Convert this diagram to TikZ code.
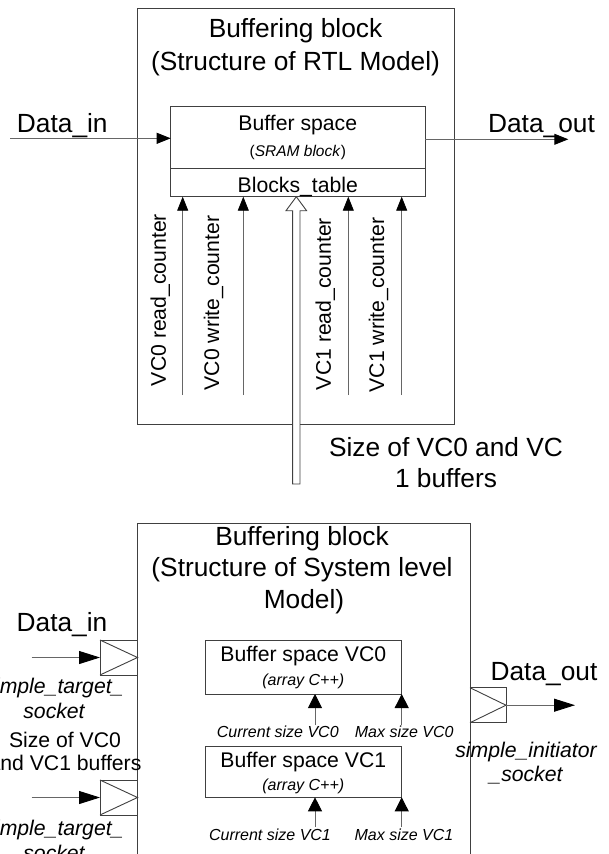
\documentclass[tikz,border=0pt]{standalone}
\usepackage{fontspec}
\setmainfont{Liberation Sans}
\usetikzlibrary{arrows.meta,calc}

\begin{document}
\begin{tikzpicture}[x=1pt,y=-1pt,
  boxline/.style={draw=black!75, line width=0.9pt},
  wire/.style={draw=black!60, line width=0.9pt},
  rectbox/.style={boxline, rectangle, inner sep=0pt, outer sep=0pt},
  tipS/.style={-{Triangle[length=14pt,width=11pt,color=black]}},
  tipM/.style={-{Triangle[length=14pt,width=14pt,color=black]}},
  tipL/.style={-{Triangle[length=21pt,width=13pt,color=black]}},
  lbl/.style={inner sep=0pt, anchor=base},
  fbig/.style={font=\fontsize{26.3}{30}\selectfont},
  fmid/.style={font=\fontsize{21.2}{25}\selectfont},
  fsmall/.style={font=\fontsize{16}{19}\selectfont},
  fsmallit/.style={font=\fontsize{16}{19}\selectfont\itshape},
  fmidit/.style={font=\fontsize{21.2}{25}\selectfont\itshape}]
\useasboundingbox (0,0) rectangle (608,854);
\clip (0,0) rectangle (608,854);

% ---------------- RTL model ----------------
\node[rectbox, minimum width=316.8pt, minimum height=416pt] (rtl) at (295.9,216.3) {};
\node[lbl,fbig] (rtlA) at (295.5,37.5) {Buffering block};
\node[lbl,fbig] (rtlB) at (295.5,70.9) {(Structure of RTL Model)};

\node[rectbox, minimum width=254.3pt, minimum height=62pt] (bufspace) at (297.85,137) {};
\node[rectbox, minimum width=254.3pt, minimum height=28.7pt] (tbl) at (297.85,182.35) {};
\node[lbl,fmid] (bsA) at (297.8,130.7) {Buffer space};
\node[lbl,font=\fontsize{15.5}{18}\selectfont] (bsB) at (297.8,156) {(\textit{SRAM block})};
\node[lbl,fmid] (tblA) at (297.8,192.5) {Blocks\_table};

\node[lbl,fbig] (dinA) at (62.3,132.3) {Data\_in};
\node[lbl,fbig] (doutA) at (541.5,132.3) {Data\_out};
\coordinate (din) at (10,138.3);
\draw[wire,tipS] (din) -- (din -| bufspace.west);
\coordinate (dout) at (568.3,139.3);
\draw[wire,tipS] (dout -| bufspace.east) -- (dout);

% counters
\foreach \xx/\nm in {182.7/ctA, 243.3/ctB, 348.3/ctC, 401.7/ctD}{
  \coordinate (\nm) at (\xx,395);
  \draw[wire,tipS] (\nm) -- (\nm |- tbl.south);
}
\node[lbl,fmid,rotate=90] (lcA) at (165.8,300) {VC0 read\_counter};
\node[lbl,fmid,rotate=90] (lcB) at (219.2,303) {VC0 write\_counter};
\node[lbl,fmid,rotate=90] (lcC) at (330.8,304) {VC1 read\_counter};
\node[lbl,fmid,rotate=90] (lcD) at (384.2,305) {VC1 write\_counter};

% hollow arrow carrying the buffer sizes
\coordinate (sz) at (296.3,484);
\coordinate (szTip) at (sz |- tbl.south);
\draw[boxline, fill=white]
  ($(sz)+(-3.65,0)$) -- ($(szTip)+(-3.65,14)$) -- ($(szTip)+(-10.3,14)$) -- (szTip)
  -- ($(szTip)+(10.3,14)$) -- ($(szTip)+(3.65,14)$) -- ($(sz)+(3.65,0)$) -- cycle;
\node[lbl,fbig] (szA) at (446,456.3) {Size of VC0 and VC};
\node[lbl,fbig] (szB) at (446,487) {1 buffers};

% ---------------- System level model ----------------
\node[rectbox, minimum width=332.5pt, minimum height=377pt] (sys) at (303.75,711.5) {};
\node[lbl,fbig] (sysA) at (302,545) {Buffering block};
\node[lbl,fbig] (sysB) at (302,576.7) {(Structure of System level};
\node[lbl,fbig] (sysC) at (304,608.3) {Model)};

% target sockets
\node[rectbox, minimum width=37.5pt, minimum height=35pt] (sin1) at (118.75,657.5) {};
\draw[boxline] (sin1.north west) -- (sin1.east) -- (sin1.south west);
\node[rectbox, minimum width=37.5pt, minimum height=35pt] (sin2) at (118.75,797.5) {};
\draw[boxline] (sin2.north west) -- (sin2.east) -- (sin2.south west);
\coordinate (src1) at (31.7,657.5);
\coordinate (src2) at (31.7,797.5);
\draw[wire,tipL] (src1) -- (sin1.west);
\draw[wire,tipL] (src2) -- (sin2.west);

\node[lbl,fbig] (dinB) at (62,631.7) {Data\_in};
\node[lbl,fmidit] (stA) at (54,693.3) {simple\_target\_};
\node[lbl,fmidit] (stB) at (54,718) {socket};
\node[lbl,fmid] (szC) at (65,747) {Size of VC0};
\node[lbl,fmid] (szD) at (65,770.7) {and VC1 buffers};
\node[lbl,fmidit] (stC) at (54,835) {simple\_target\_};
\node[lbl,fmidit] (stD) at (54,860) {socket};

% initiator socket
\node[rectbox, minimum width=36pt, minimum height=35pt] (sout) at (488,705.2) {};
\draw[boxline] (sout.north west) -- (sout.east) -- (sout.south west);
\coordinate (dst) at (575,705.2);
\draw[wire,tipL] (sout.east) -- (dst);
\node[lbl,fbig] (doutB) at (544,680) {Data\_out};
\node[lbl,fmidit] (siA) at (526,757) {simple\_initiator};
\node[lbl,fmidit] (siB) at (526,781) {\_socket};

% buffer spaces
\node[rectbox, minimum width=196.7pt, minimum height=54pt] (bvc0) at (303.35,667) {};
\node[rectbox, minimum width=196.7pt, minimum height=50.6pt] (bvc1) at (303.35,772) {};
\node[lbl,fmid] (b0A) at (303.3,661.3) {Buffer space VC0};
\node[lbl,fsmallit] (b0B) at (303.3,685.5) {(array C++)};
\node[lbl,fmid] (b1A) at (303.3,767) {Buffer space VC1};
\node[lbl,fsmallit] (b1B) at (303.3,790.5) {(array C++)};

\coordinate (cs0) at (315,725);
\coordinate (ms0) at (401.7,725);
\coordinate (cs1) at (315,826.7);
\coordinate (ms1) at (401.7,826.7);
\draw[wire,tipM] (cs0) -- (cs0 |- bvc0.south);
\draw[wire,tipM] (ms0) -- (ms0 |- bvc0.south);
\draw[wire,tipM] (cs1) -- (cs1 |- bvc1.south);
\draw[wire,tipM] (ms1) -- (ms1 |- bvc1.south);
\node[lbl,fsmallit] (cs0t) at (277.8,737.5) {Current size VC0};
\node[lbl,fsmallit] (ms0t) at (404.2,737.5) {Max size VC0};
\node[lbl,fsmallit] (cs1t) at (270,840.8) {Current size VC1};
\node[lbl,fsmallit] (ms1t) at (404,840.8) {Max size VC1};
\end{tikzpicture}
\end{document}
